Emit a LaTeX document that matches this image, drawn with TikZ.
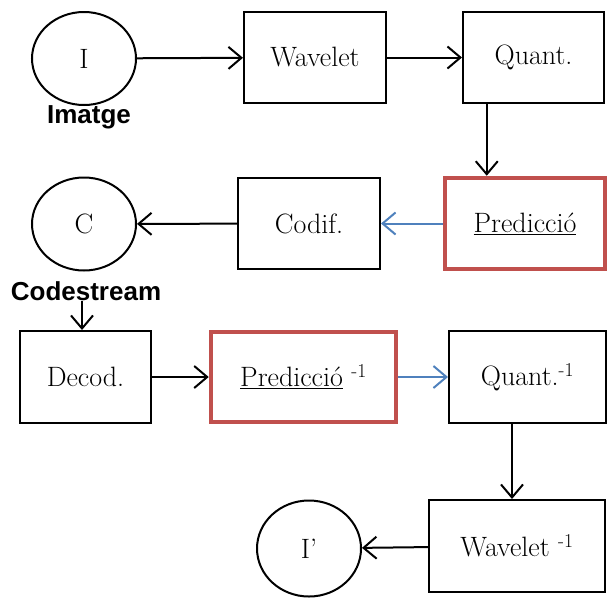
\documentclass[tikz,border=0pt]{standalone}
\usepackage{fontspec}
\usepackage{tikz}
\usetikzlibrary{arrows.meta, positioning, shapes}

\newfontfamily\labelfont{Liberation Sans}
\definecolor{predred}{RGB}{192,80,77}
\definecolor{predblue}{RGB}{79,129,189}

\begin{document}
\begin{tikzpicture}[x=1pt, y=-1pt,
    txt/.style={font=\fontsize{28}{32}\selectfont},
    blk/.style={txt, draw, line width=2pt, inner sep=0pt, minimum height=91pt},
    predbox/.style={blk, draw=predred, line width=4.5pt},
    img/.style={txt, ellipse, draw, line width=2pt, inner sep=0pt, minimum width=104pt, minimum height=93pt},
    tag/.style={font=\labelfont\bfseries\fontsize{26}{28}\selectfont, inner sep=0pt},
    flow/.style={-{Straight Barb[length=13pt, width=22pt, line width=2pt]}, line width=2pt},
    bflow/.style={flow, predblue}]
    \useasboundingbox (0,0) rectangle (607,598);

    % Coder
    \node[img] (in) at (84,58.5) {I};
    \node[tag] (imatge) at (89,117) {Imatge};
    \node[blk, minimum width=142pt] (wav) at (315,57.5) {Wavelet};
    \node[blk, minimum width=141pt] (quant) at (533.5,57.5) {Quant.};
    \node[predbox, minimum width=160pt] (pred) at (525,223.5) {\underline{Predicció}};
    \node[blk, minimum width=142pt] (codif) at (309,223.5) {Codif.};
    \node[img] (cs) at (84,224) {C};
    \node[tag] (codestream) at (86,291) {Codestream};

    \draw[flow] (in) -- (wav);
    \draw[flow] (wav) -- (quant);
    \draw[flow] (quant.south -| pred.north west) ++(44,0) coordinate (qdown) -- (qdown |- pred.north);
    \draw[bflow] (pred) -- (codif);
    \draw[flow] (codif) -- (cs);

    % Decoder
    \node[blk, minimum width=131pt, minimum height=92pt] (decod) at (85.5,377) {Decod.};
    \node[predbox, minimum width=185pt, minimum height=90pt] (predinv) at (303.5,377) {\underline{Predicció}~\textsuperscript{-1}};
    \node[blk, minimum width=157pt, minimum height=92pt] (quantinv) at (527.5,377) {Quant.\textsuperscript{-1}};
    \node[blk, minimum width=176pt, minimum height=92pt] (wavinv) at (517,546) {Wavelet \textsuperscript{-1}};
    \node[img, minimum height=96pt] (out) at (309,548.5) {I’};

    \draw[flow] (codestream.south -| 82,0) coordinate (csdown) -- (csdown |- decod.north);
    \draw[flow] (decod) -- (predinv);
    \draw[bflow] (predinv) -- (quantinv);
    \draw[flow] (quantinv.south -| 512,0) coordinate (qidown) -- (qidown |- wavinv.north);
    \draw[flow] (wavinv) -- (out);
\end{tikzpicture}
\end{document}
